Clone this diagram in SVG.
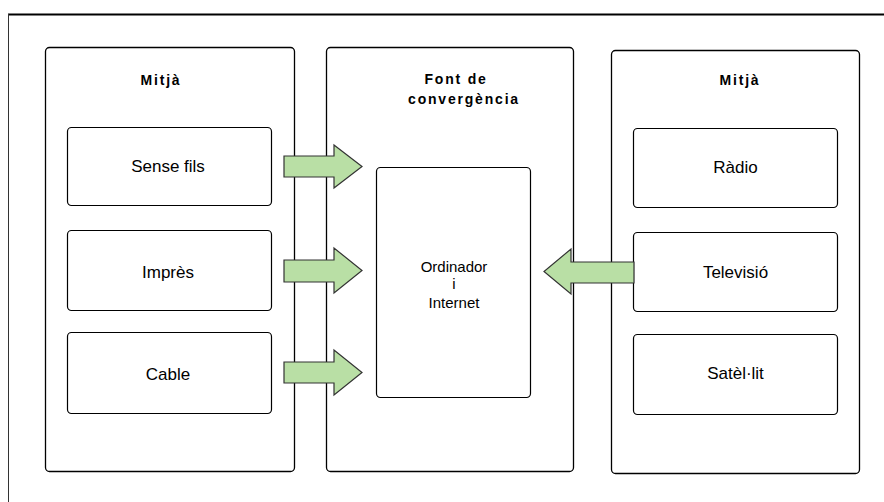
<svg xmlns="http://www.w3.org/2000/svg" width="884" height="502" viewBox="0 0 884 502">
<style>
.panel{fill:#fff;stroke:#000;stroke-width:1.3}
.box{fill:#fff;stroke:#000;stroke-width:1.2}
.title{font-family:"Liberation Sans",Arial,sans-serif;font-size:14px;font-weight:bold;fill:#000;text-anchor:middle;letter-spacing:1.8px}
.lbl{font-family:"Liberation Sans",Arial,sans-serif;font-size:17px;fill:#000;text-anchor:middle}
.small{font-family:"Liberation Sans",Arial,sans-serif;font-size:15px;fill:#000;text-anchor:middle}
.arrow{fill:#b9dfa5;stroke:#333;stroke-width:1.2;stroke-linejoin:miter}
</style>
<rect width="884" height="502" fill="#fff"/>
<g id="frame">
<line x1="8" y1="14.5" x2="884" y2="14.5" stroke="#000" stroke-width="2"/>
<line x1="8.5" y1="14" x2="8.5" y2="502" stroke="#333" stroke-width="1"/>
</g>
<g id="panel-left">
<rect class="panel" x="45.5" y="47.5" width="249" height="424" rx="4"/>
<text class="title" x="161" y="85">Mitjà</text>
</g>
<g id="node-sense-fils">
<rect class="box" x="67.5" y="127.5" width="204" height="78" rx="4"/>
<text class="lbl" x="168" y="172">Sense fils</text>
</g>
<g id="node-impres">
<rect class="box" x="67.5" y="230.5" width="204" height="80" rx="4"/>
<text class="lbl" x="168" y="278">Imprès</text>
</g>
<g id="node-cable">
<rect class="box" x="67.5" y="332.5" width="204" height="81" rx="4"/>
<text class="lbl" x="168" y="380">Cable</text>
</g>
<g id="panel-middle">
<rect class="panel" x="326.5" y="47.5" width="247" height="424" rx="4"/>
<text class="title" x="456" y="84">Font de</text>
<text class="title" x="464" y="104">convergència</text>
</g>
<g id="node-ordinador">
<rect class="box" x="376.5" y="167.5" width="154" height="230" rx="4"/>
<text class="small" x="454" y="272">Ordinador</text>
<text class="small" x="454" y="289">i</text>
<text class="small" x="454" y="308">Internet</text>
</g>
<g id="panel-right">
<rect class="panel" x="611.5" y="50.5" width="248" height="423" rx="4"/>
<text class="title" x="740" y="85">Mitjà</text>
</g>
<g id="node-radio">
<rect class="box" x="633.5" y="128.5" width="204" height="79" rx="4"/>
<text class="lbl" x="735.5" y="173">Ràdio</text>
</g>
<g id="node-televisio">
<rect class="box" x="633.5" y="232.5" width="204" height="79" rx="4"/>
<text class="lbl" x="735.5" y="278">Televisió</text>
</g>
<g id="node-satelit">
<rect class="box" x="633.5" y="334.5" width="204" height="80" rx="4"/>
<text class="lbl" x="735.5" y="379">Satèl·lit</text>
</g>
<g id="connectors">
<polygon class="arrow" points="284,156 334,156 334,145 362,166.5 334,188 334,177 284,177"/>
<polygon class="arrow" points="284,260 334,260 334,248 362,270.5 334,293 334,282 284,282"/>
<polygon class="arrow" points="284,362 334,362 334,350 362,372.5 334,395 334,383 284,383"/>
<polygon class="arrow" points="634,262 571,262 571,249 544,271.5 571,294 571,283 634,283"/>
</g>
</svg>
